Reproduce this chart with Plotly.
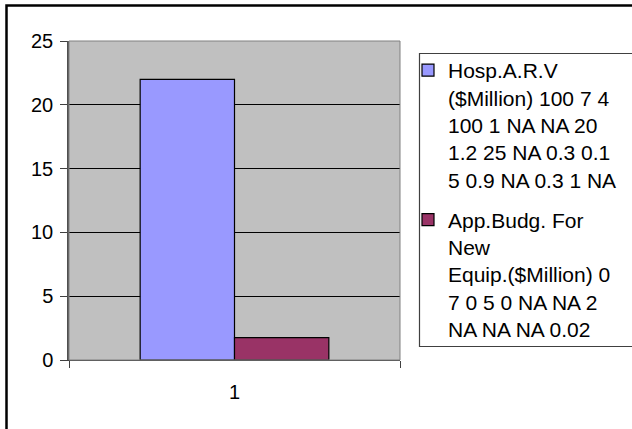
import plotly.graph_objects as go

categories = ["1"]
series_names = [
    "Hosp.A.R.V<br>($Million) 100 7 4<br>100 1 NA NA 20<br>1.2 25 NA 0.3 0.1<br>5 0.9 NA 0.3 1 NA",
    "App.Budg. For<br>New<br>Equip.($Million) 0<br>7 0 5 0 NA NA 2<br>NA NA NA 0.02",
]
hosp_values = [22]
budget_values = [1.75]
series_colors = ["#9999FF", "#993366"]
y_ticks = [0, 5, 10, 15, 20, 25]

W, H = 632, 429
L, R, T, B = 69, 400, 41, 360.5

def px_to_paper_x(px):
    return (px - L) / (R - L)

def px_to_paper_y(py):
    return (B - py) / (B - T)

fig = go.Figure()
for name, vals, col, grp in zip(series_names, [hosp_values, budget_values], series_colors, ["a", "b"]):
    fig.add_trace(go.Bar(
        x=categories, y=vals, name=name, legendgroup=grp,
        marker=dict(color=col, line=dict(color="black", width=1.2)),
    ))

FONT = "Liberation Sans, Arial, sans-serif"
fig.update_layout(
    width=W, height=H,
    margin=dict(l=L, r=W - R, t=T, b=H - B, autoexpand=False),
    paper_bgcolor="white",
    plot_bgcolor="#C0C0C0",
    font=dict(family=FONT, size=20, color="black"),
    barmode="group",
    bargap=0.43,
    bargroupgap=0,
    showlegend=True,
    legend=dict(
        x=px_to_paper_x(408), y=px_to_paper_y(50), xanchor="left", yanchor="top",
        borderwidth=0, bgcolor="rgba(0,0,0,0)", valign="top",
        font=dict(size=21), tracegroupgap=10, itemwidth=30,
    ),
    xaxis=dict(
        type="category", tickson="boundaries", ticks="outside", ticklen=7,
        tickcolor="#404040", showline=True, linecolor="#404040", linewidth=1,
        showgrid=False, mirror=False, ticklabelstandoff=14,
    ),
    yaxis=dict(
        range=[0, 25], tickvals=y_ticks, ticks="outside", ticklen=7,
        tickcolor="#404040", showline=True, linecolor="#505050", linewidth=1.5,
        showgrid=True, gridcolor="black", gridwidth=1, zeroline=False,
        ticklabelstandoff=3,
    ),
)

# plot-area border (gray frame)
fig.add_shape(type="rect", xref="paper", yref="paper", x0=0, x1=1, y0=0, y1=1,
              line=dict(color="#808080", width=1), layer="above")
# legend frame
fig.add_shape(type="rect", xref="paper", yref="paper",
              x0=px_to_paper_x(419.5), x1=px_to_paper_x(700),
              y0=px_to_paper_y(347), y1=px_to_paper_y(53.5),
              line=dict(color="#404040", width=1.2))
# outer chart frame
fig.add_shape(type="rect", xref="paper", yref="paper",
              x0=px_to_paper_x(6.5), x1=px_to_paper_x(700),
              y0=px_to_paper_y(480), y1=px_to_paper_y(5.5),
              line=dict(color="black", width=2.5))

fig.write_html("out.html", config={"displayModeBar": False},
               post_script="document.body.style.margin='0';")
